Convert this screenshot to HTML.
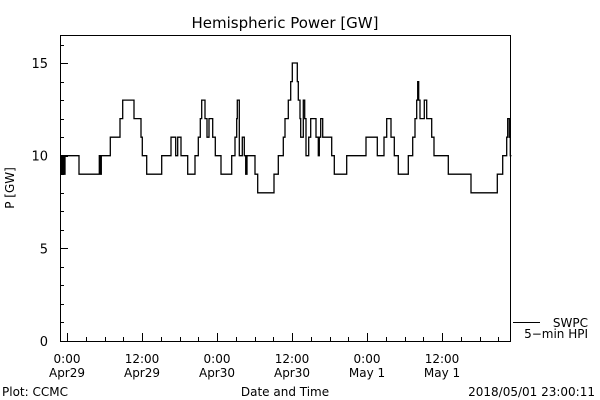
<!DOCTYPE html>
<html><head><meta charset="utf-8"><style>
body{margin:0;background:#fff;width:600px;height:400px;overflow:hidden}
svg{display:block;font-family:"DejaVu Sans","Liberation Sans",sans-serif}
</style></head><body>
<svg id="c" width="600" height="400">
<text x="285" y="28" font-size="15" text-anchor="middle">Hemispheric Power [GW]</text>
<rect x="60.5" y="35.5" width="450" height="306" fill="none" stroke="#000"/>
<g id="ax"></g>
<path id="series" fill="none" stroke="#000" stroke-width="1.3"/>
<line x1="513" y1="322.5" x2="540" y2="322.5" stroke="#000"/>
<text x="588" y="327" font-size="12" text-anchor="end">SWPC</text>
<text x="588" y="338" font-size="12" text-anchor="end">5−min HPI</text>
<text x="14" y="188" font-size="12" text-anchor="middle" transform="rotate(-90 14 188)">P [GW]</text>
<text x="285" y="396" font-size="12" text-anchor="middle">Date and Time</text>
<text x="2" y="396" font-size="12">Plot: CCMC</text>
<text x="595" y="396" font-size="12" text-anchor="end">2018/05/01 23:00:11</text>
</svg>
<script>
const yTicks=[0,5,10,15];
const xTickHours=[0,12,24,36,48,60];
const xTickTop=["0:00","12:00","0:00","12:00","0:00","12:00"];
const xTickBottom=["Apr29","Apr29","Apr30","Apr30","May 1","May 1"];
const times=[-1.12,-0.96,-0.75,-0.64,-0.43,-0.32,1.92,5.17,5.33,5.49,6.93,8.48,8.91,10.72,11.84,12.05,12.75,15.15,16.64,17.39,17.71,18.24,19.31,20.48,21.01,21.33,21.55,22.08,22.4,22.72,23.31,23.73,24.64,26.35,26.88,27.15,27.25,27.57,28.05,28.37,28.59,28.8,30.08,30.51,33.12,33.81,34.61,34.88,35.41,35.79,36.05,36.85,37.01,37.28,37.39,37.81,38.03,38.24,38.67,38.99,39.84,40.21,40.37,40.59,40.91,42.35,42.77,44.75,47.84,49.65,50.72,51.15,51.84,52.37,53.01,54.61,55.31,55.68,55.95,56.11,56.27,56.48,57.17,57.55,58.35,58.72,61.01,64.64,68.85,69.71,70.35,70.51,70.77,70.93];
const power=[9,10,9,10,9,10,9,10,9,10,11,12,13,12,11,10,9,10,11,10,11,10,9,10,11,12,13,12,11,12,11,10,9,10,11,12,13,10,11,10,9,10,9,8,9,10,11,12,13,14,15,14,13,12,11,13,12,10,11,12,11,10,11,12,11,10,9,10,11,10,11,12,11,10,9,10,11,12,13,14,13,12,13,12,11,10,9,8,9,10,11,12,11,10];
const tEnd=71.1;
const X=h=>67+h*6.25, Y=v=>341-v*18.53;
const ns="http://www.w3.org/2000/svg", ax=document.getElementById('ax');
function el(t,a,p){const e=document.createElementNS(ns,t);for(const k in a)e.setAttribute(k,a[k]);(p||ax).appendChild(e);return e;}
for(let v=0;v<=16;v++){const y=Math.round(Y(v))+0.5;const l=el('line',{x1:60,x2:v%5?64:68,y1:y,y2:y,stroke:'#000'});

}
yTicks.forEach(v=>{const t=el('text',{x:48,y:Y(v)+5,'font-size':13,'text-anchor':'end'});t.textContent=v;

});
for(let h=0;h<=69;h+=3){const x=Math.round(X(h))+0.5;const l=el('line',{x1:x,x2:x,y1:341,y2:h%12?337:333,stroke:'#000'});

}
xTickHours.forEach((h,i)=>{const t=el('text',{x:X(h),y:363,'font-size':12,'text-anchor':'middle'});t.textContent=xTickTop[i];


const b=el('text',{x:X(h),y:377,'font-size':12,'text-anchor':'middle'});b.textContent=xTickBottom[i];

});
const n=Math.min(times.length,power.length);
let d='';for(let i=0;i<n;i++){const x=X(times[i]).toFixed(1),y=Y(power[i]).toFixed(1);d+=(i?'L'+x+','+Y(power[i-1]).toFixed(1):'M'+x+','+y)+'L'+x+','+y;}
d+='L'+X(tEnd).toFixed(1)+','+Y(power[n-1]).toFixed(1);
document.getElementById('series').setAttribute('d',d);
</script>
</body></html>
